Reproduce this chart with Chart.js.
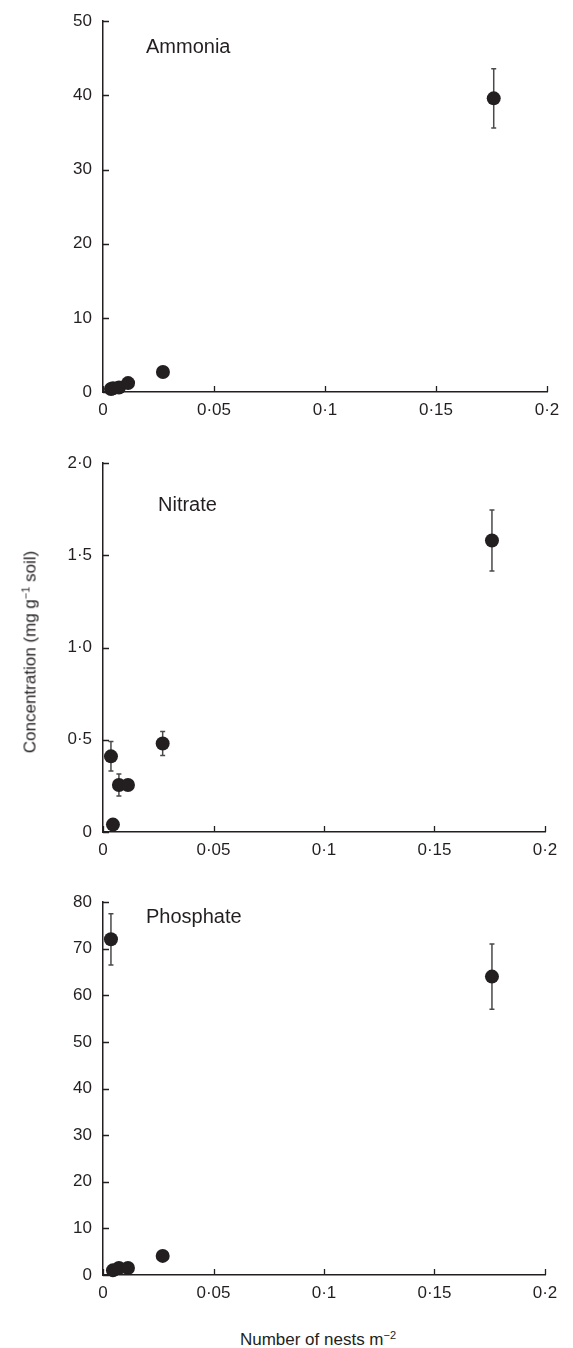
<!DOCTYPE html>
<html>
<head>
<meta charset="utf-8">
<script src="https://cdn.jsdelivr.net/npm/chart.js@4.4.1/dist/chart.umd.min.js"></script>
<style>
  body { margin:0; background:#fff; }
  #wrap { position:relative; width:573px; height:1348px; font-family:"Liberation Sans", Arial, sans-serif; color:#231f20; }
  canvas { position:absolute; left:0; }
  .lbl { position:absolute; font-size:20px; line-height:20px; white-space:nowrap; }
  .ttl { position:absolute; font-size:17px; line-height:17px; white-space:nowrap; }
  sup { font-size:11px; vertical-align:6px; line-height:0; }
</style>
</head>
<body>
<div id="wrap">
  <canvas id="c1" width="573" height="440" style="top:0px"></canvas>
  <canvas id="c2" width="573" height="440" style="top:440px"></canvas>
  <canvas id="c3" width="573" height="443" style="top:880px"></canvas>
  <div class="lbl" style="left:146px;top:36px">Ammonia</div>
  <div class="lbl" style="left:158px;top:494px">Nitrate</div>
  <div class="lbl" style="left:146px;top:906px">Phosphate</div>
  <div class="ttl" style="left:30px;top:652px;transform:translate(-50%,-50%) rotate(-90deg);">Concentration (mg g<sup>−1</sup> soil)</div>
  <div class="ttl" style="left:318px;top:1331px;transform:translateX(-50%);">Number of nests m<sup>−2</sup></div>
</div>
<script>
// ---- data ----
const xValues = [0.0036, 0.0045, 0.0072, 0.0113, 0.027, 0.176];
const ammoniaY = [0.4, 0.5, 0.6, 1.2, 2.7, 39.6];
const ammoniaErr = [0, 0, 0, 0, 0, 4.0];
const nitrateY = [0.41, 0.04, 0.255, 0.255, 0.48, 1.58];
const nitrateErr = [0.08, 0, 0.06, 0, 0.065, 0.165];
const phosphateY = [72, 1.0, 1.5, 1.5, 4.1, 64];
const phosphateErr = [5.5, 0, 0, 0, 0, 7];
const xTickLabels = ['0', '0·05', '0·1', '0·15', '0·2'];
const ammoniaTicks = ['0', '10', '20', '30', '40', '50'];
const nitrateTicks = ['0', '0·5', '1·0', '1·5', '2·0'];
const phosphateTicks = ['0', '10', '20', '30', '40', '50', '60', '70', '80'];

const INK = '#231f20';
Chart.defaults.font.family = '"Liberation Sans", Arial, sans-serif';
Chart.defaults.font.size = 17;
Chart.defaults.color = INK;

const decor = {
  id: 'decor',
  beforeDatasetsDraw(chart, args, opts) {
    const ctx = chart.ctx, xs = chart.scales.x, ys = chart.scales.y;
    const err = opts.err || [];
    const ds = chart.data.datasets[0].data;
    ctx.save();
    ctx.strokeStyle = '#4a4a4a';
    ctx.lineWidth = 1.5;
    ds.forEach((p, i) => {
      const e = err[i];
      if (!e) return;
      const px = xs.getPixelForValue(p.x);
      const top = ys.getPixelForValue(p.y + e);
      const bot = ys.getPixelForValue(p.y - e);
      ctx.beginPath();
      ctx.moveTo(px, top); ctx.lineTo(px, bot);
      ctx.moveTo(px - 2.5, top); ctx.lineTo(px + 2.5, top);
      ctx.moveTo(px - 2.5, bot); ctx.lineTo(px + 2.5, bot);
      ctx.stroke();
    });
    ctx.restore();
  },
  afterDraw(chart) {
    const ctx = chart.ctx, xs = chart.scales.x, ys = chart.scales.y, a = chart.chartArea;
    ctx.save();
    ctx.strokeStyle = INK;
    ctx.lineWidth = 1.3;
    ctx.beginPath();
    ys.ticks.forEach(t => {
      const py = Math.round(ys.getPixelForValue(t.value)) + 0.5;
      ctx.moveTo(a.left, py); ctx.lineTo(a.left + 6, py);
    });
    xs.ticks.forEach(t => {
      const px = Math.round(xs.getPixelForValue(t.value)) + 0.5;
      ctx.moveTo(px, a.bottom); ctx.lineTo(px, a.bottom - 6);
    });
    ctx.stroke();
    ctx.restore();
  }
};

function makeChart(id, ys, errs, ymax, ystep, yLabels, padTop, padRight) {
  return new Chart(document.getElementById(id), {
    type: 'scatter',
    data: {
      datasets: [{
        data: xValues.map((x, i) => ({ x: x, y: ys[i] })),
        pointRadius: 7,
        pointHoverRadius: 7,
        backgroundColor: INK,
        borderWidth: 0,
        clip: false
      }]
    },
    options: {
      responsive: false,
      animation: false,
      devicePixelRatio: 1,
      layout: { padding: { top: padTop, right: padRight, left: 0, bottom: 0 } },
      plugins: { legend: { display: false }, tooltip: { enabled: false }, decor: { err: errs } },
      scales: {
        x: {
          type: 'linear', min: 0, max: 0.2,
          grid: { display: false, drawTicks: false },
          border: { display: true, color: INK, width: 1.5 },
          ticks: { stepSize: 0.05, autoSkip: false, maxRotation: 0, padding: 8,
                   callback: (v, i) => xTickLabels[i] },
          afterFit: s => { s.height = 48; }
        },
        y: {
          type: 'linear', min: 0, max: ymax,
          grid: { display: false, drawTicks: false },
          border: { display: true, color: INK, width: 1.5 },
          ticks: { stepSize: ystep, autoSkip: false, padding: 11,
                   callback: (v, i) => yLabels[i] },
          afterFit: s => { s.width = 103; }
        }
      }
    },
    plugins: [decor]
  });
}

makeChart('c1', ammoniaY, ammoniaErr, 50, 10, ammoniaTicks, 13, 26);
makeChart('c2', nitrateY, nitrateErr, 2, 0.5, nitrateTicks, 23, 28);
makeChart('c3', phosphateY, phosphateErr, 80, 10, phosphateTicks, 22, 28);
</script>
</body>
</html>
